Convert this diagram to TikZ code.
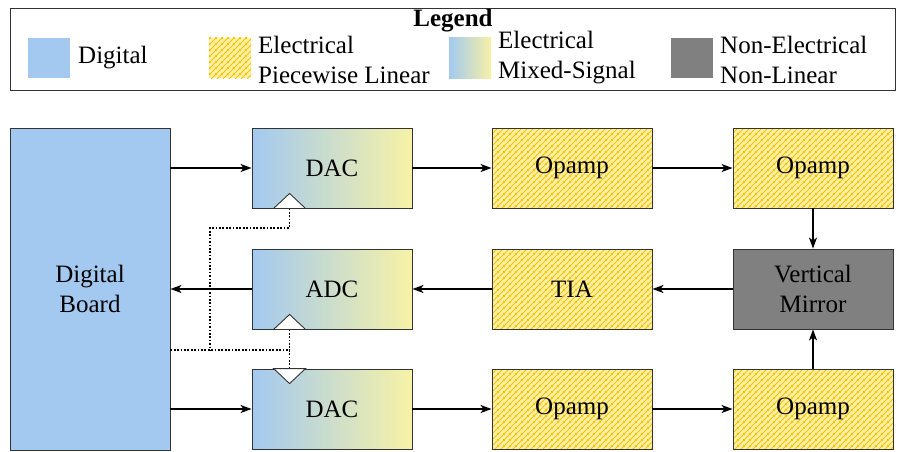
\documentclass[tikz,border=0pt]{standalone}
\usepackage{fontspec}
\setmainfont{Liberation Serif}
\newfontfamily\termsfont{Liberation Serif}
\usetikzlibrary{arrows.meta,patterns.meta,calc}
\definecolor{dblue}{HTML}{A3C9F0}
\definecolor{myel}{HTML}{F7F2A6}
\definecolor{hyel}{HTML}{FDF0A0}
\definecolor{horange}{HTML}{F5C211}
\definecolor{mgray}{HTML}{808080}
\definecolor{bord}{HTML}{333333}
\tikzdeclarepattern{
  name=hatchy,
  type=uncolored,
  bounding box={(0pt,0pt) and (6pt,6pt)},
  tile size={(6pt,6pt)},
  code={
    \draw[line width=1.1pt] (-1pt,-1pt) -- (7pt,7pt);
    \draw[line width=1.1pt] (-1pt,5pt) -- (1pt,7pt);
    \draw[line width=1.1pt] (5pt,-1pt) -- (7pt,1pt);
  }
}
\tikzset{
  txt/.style={font=\termsfont\fontsize{25}{30}\selectfont, text=black},
  blk/.style={draw=bord, line width=0.9pt, minimum width=160pt, minimum height=80pt, inner sep=0pt, align=center, txt},
  digi/.style={fill=dblue},
  hatched/.style={preaction={fill=hyel}, preaction={pattern=hatchy, pattern color=horange}},
  mixed/.style={left color=dblue, right color=myel},
  nonlin/.style={fill=mgray},
  arr/.style={-{Stealth[length=11pt,width=8pt,inset=3pt]}, line width=1.5pt},
  dots/.style={line width=1.7pt, dash pattern=on 1.7pt off 1.7pt},
  tri/.style={draw=bord, fill=white, line width=0.9pt},
  swatch/.style={minimum width=42pt, minimum height=40pt, inner sep=0pt},
  ltxt/.style={txt, anchor=west, align=left, inner sep=0pt}
}
\begin{document}
\begin{tikzpicture}[x=1pt,y=-1pt]
\useasboundingbox (0,0) rectangle (902,452);
% legend
\node[draw=bord, line width=0.9pt, minimum width=885pt, minimum height=82pt, inner sep=0pt] (legendbox) at (452.5,49) {};
\node[txt, font=\termsfont\fontsize{25}{30}\selectfont\bfseries] (legendtitle) at (453,21) {Legend};
\node[swatch, digi] (sw1) at (49,58) {};
\node[ltxt] (lt1) at (78,58) {Digital};
\node[swatch, hatched] (sw2) at (230,58) {};
\node[ltxt] (lt2) at (258,60) {Electrical\\Piecewise Linear};
\node[swatch, mixed] (sw3) at (470,58) {};
\node[ltxt] (lt3) at (498,58) {Electrical\\Mixed-Signal};
\node[swatch, nonlin] (sw4) at (692,58) {};
\node[ltxt] (lt4) at (720,60) {Non-Electrical\\Non-Linear};
% blocks
\node[blk, digi, minimum height=322pt] (dig) at (90,289) {Digital\\Board};
\node[blk, mixed] (dac1) at (332,168) {DAC};
\node[blk, hatched] (op1) at (572,168) {Opamp};
\node[blk, hatched] (op2) at (813,168) {Opamp};
\node[blk, mixed] (adc) at (332,289) {ADC};
\node[blk, hatched] (tia) at (572,289) {TIA};
\node[blk, nonlin, text=black] (mir) at (813,289) {Vertical\\Mirror};
\node[blk, mixed] (dac2) at (332,409) {DAC};
\node[blk, hatched] (op3) at (572,409) {Opamp};
\node[blk, hatched] (op4) at (813,409) {Opamp};
% arrows
\draw[arr] (dig.east |- dac1) -- (dac1.west);
\draw[arr] (dac1.east) -- (op1.west);
\draw[arr] (op1.east) -- (op2.west);
\draw[arr] (op2.south) -- (mir.north);
\draw[arr] (mir.west) -- (tia.east);
\draw[arr] (tia.west) -- (adc.east);
\draw[arr] (adc.west) -- (adc.west -| dig.east);
\draw[arr] (dig.east |- dac2) -- (dac2.west);
\draw[arr] (dac2.east) -- (op3.west);
\draw[arr] (op3.east) -- (op4.west);
\draw[arr] (op4.north) -- (mir.south);
% dotted control lines
\coordinate (t1) at ($(dac1.south west)+(38,0)$);
\coordinate (t2) at ($(adc.south west)+(38,0)$);
\coordinate (t3) at ($(dac2.north west)+(38,0)$);
\coordinate (jn) at (t2 |- 0,350);
\coordinate (bend) at (210,228);
\draw[dots] (t1) |- (bend) -- (bend |- jn);
\draw[dots] (dig.east |- jn) -- (jn);
\draw[dots] (t2) -- (t3);
% triangles
\draw[tri] ($(t1)+(-16,0)$) -- ($(t1)+(0,-15)$) -- ($(t1)+(16,0)$) -- cycle;
\draw[tri] ($(t2)+(-16,0)$) -- ($(t2)+(0,-15)$) -- ($(t2)+(16,0)$) -- cycle;
\draw[tri] ($(t3)+(-16,0)$) -- ($(t3)+(0,15)$) -- ($(t3)+(16,0)$) -- cycle;
\end{tikzpicture}
\end{document}
